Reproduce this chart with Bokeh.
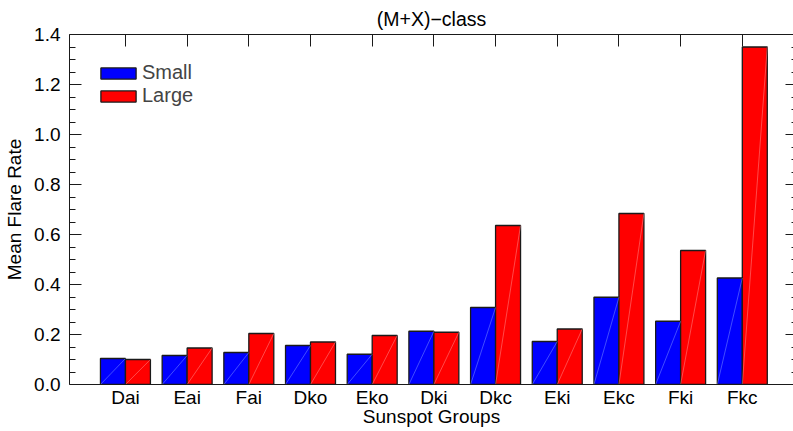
from bokeh.plotting import figure
from bokeh.models import (Range1d, LinearAxis, FixedTicker, PrintfTickFormatter,
                          Legend, LegendItem, ColumnDataSource)
from bokeh.embed import file_html
from bokeh.resources import INLINE

categories = ["Dai", "Eai", "Fai", "Dko", "Eko", "Dki", "Dkc", "Eki", "Ekc", "Fki", "Fkc"]
small = [0.104, 0.116, 0.128, 0.156, 0.121, 0.213, 0.308, 0.172, 0.349, 0.253, 0.426]
large = [0.100, 0.146, 0.204, 0.170, 0.196, 0.209, 0.636, 0.222, 0.684, 0.536, 1.350]
y_ticks = [0.0, 0.2, 0.4, 0.6, 0.8, 1.0, 1.2, 1.4]
title_text = "(M+X)\u2212class"
x_title = "Sunspot Groups"
y_title = "Mean Flare Rate"

FONT = "Liberation Sans"
BW = 0.405
idx = list(range(len(categories)))

src_s = ColumnDataSource(dict(
    x=[i - BW / 2 for i in idx], top=small,
    x0=[i - BW for i in idx], x1=[i for i in idx], y0=[0] * len(idx)))
src_l = ColumnDataSource(dict(
    x=[i + BW / 2 for i in idx], top=large,
    x0=[i for i in idx], x1=[i + BW for i in idx], y0=[0] * len(idx)))

p = figure(width=793, height=431,
           x_range=Range1d(-0.907, 10.83), y_range=Range1d(0, 1.4),
           output_backend="svg", toolbar_location=None,
           x_axis_location=None, y_axis_location=None,
           min_border_left=69, min_border_right=0, min_border_top=34, min_border_bottom=47)
p.outline_line_color = None
p.xgrid.visible = False
p.ygrid.visible = False
p.background_fill_color = "white"

rb = p.vbar(x="x", top="top", width=BW, bottom=0, source=src_s,
            fill_color="#0000ff", line_color="#1a1a1a", line_width=1.3)
rr = p.vbar(x="x", top="top", width=BW, bottom=0, source=src_l,
            fill_color="#ff0000", line_color="#1a1a1a", line_width=1.3)
p.segment(x0="x0", y0="y0", x1="x1", y1="top", source=src_s,
          line_color="#8aa0ff", line_alpha=0.6, line_width=0.8)
p.segment(x0="x0", y0="y0", x1="x1", y1="top", source=src_l,
          line_color="#ff9a9a", line_alpha=0.6, line_width=0.8)

minor = [round(a + k * 0.05, 2) for a in y_ticks[:-1] for k in (1, 2, 3)]

left = LinearAxis(ticker=FixedTicker(ticks=y_ticks, minor_ticks=minor),
                  formatter=PrintfTickFormatter(format="%.1f"),
                  axis_label=y_title)
left.major_tick_in = 12
left.major_tick_out = 0
left.minor_tick_in = 6
left.minor_tick_out = 0
left.major_label_standoff = 9
left.axis_label_standoff = 6
p.add_layout(left, "left")

right = LinearAxis(ticker=FixedTicker(ticks=y_ticks, minor_ticks=minor),
                   major_label_overrides={t: "" for t in y_ticks})
right.major_tick_in = 8
right.major_tick_out = 0
right.minor_tick_in = 2
right.minor_tick_out = 0
right.major_label_standoff = 0
right.major_label_text_font_size = "0px"
p.add_layout(right, "right")

bottom = LinearAxis(ticker=FixedTicker(ticks=idx),
                    major_label_overrides={i: c for i, c in zip(idx, categories)},
                    axis_label=x_title)
bottom.major_tick_in = 0
bottom.major_tick_out = 0
bottom.major_label_standoff = 2
bottom.axis_label_standoff = -5
p.add_layout(bottom, "below")

top = LinearAxis(ticker=FixedTicker(ticks=idx),
                 major_label_overrides={i: "" for i in idx})
top.major_tick_in = 12
top.major_tick_out = 0
top.major_label_standoff = 0
top.major_label_text_font_size = "0px"
p.add_layout(top, "above")

for ax in (left, right, bottom, top):
    ax.axis_line_color = None if ax is right else "#1a1a1a"
    ax.major_tick_line_color = "#1a1a1a"
    ax.minor_tick_line_color = "#1a1a1a" if ax in (left, right) else None
    ax.major_label_text_font = FONT
    ax.major_label_text_color = "black"
    ax.axis_label_text_font = FONT
    ax.axis_label_text_font_style = "normal"
    ax.axis_label_text_color = "black"
    ax.axis_label_text_font_size = "19px"
left.major_label_text_font_size = "19px"
bottom.major_label_text_font_size = "19px"

p.title.text = title_text
p.title.align = "center"
p.title.text_font = FONT
p.title.text_font_style = "normal"
p.title.text_font_size = "19.5px"
p.title.text_color = "black"
p.title.standoff = 10

legend = Legend(items=[LegendItem(label="Small", renderers=[rb]),
                       LegendItem(label="Large", renderers=[rr])],
                location=(27, 277), glyph_width=44, glyph_height=14,
                label_height=23, label_standoff=2, padding=0, margin=0, spacing=0,
                border_line_color=None, background_fill_alpha=0,
                label_text_font=FONT, label_text_font_size="20px")
p.add_layout(legend)

open("out.html", "w").write(file_html(p, INLINE))
